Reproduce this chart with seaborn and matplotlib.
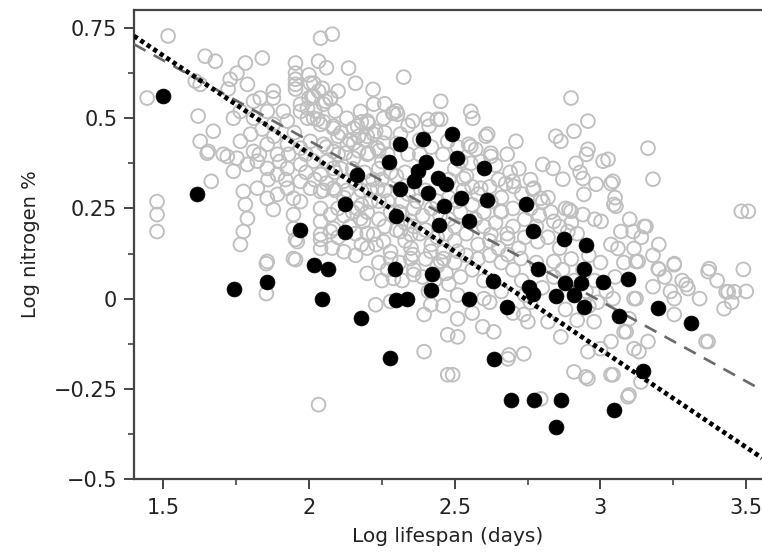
import numpy as np
import pandas as pd
import matplotlib
matplotlib.use("Agg")
import matplotlib.pyplot as plt
import seaborn as sns

# ---------------- data (log lifespan, log nitrogen %) ----------------
gray_left = [(1.517,0.728),(1.445,0.556),(1.644,0.672),(1.679,0.658),(1.782,0.653),(1.840,0.667),(1.753,0.625),(1.730,0.608),
 (1.789,0.594),(1.723,0.581),(1.627,0.594),(1.610,0.603),(1.620,0.506),(1.627,0.436),(1.672,0.464),(1.651,0.403),(1.720,0.394),
 (1.665,0.325),(1.479,0.269),(1.479,0.233),(1.479,0.186),(1.775,0.297),(1.782,0.261),(1.789,0.222),(1.775,0.186),(1.765,0.150),
 (1.857,0.103),(1.947,0.111),(1.954,0.164),(1.878,0.247),(1.857,0.278),(1.947,0.233),(1.947,0.278),(1.954,0.653),(1.954,0.625),
 (1.954,0.594),(1.954,0.581),(1.878,0.575),(1.833,0.556),(1.878,0.556),(1.912,0.519),(1.857,0.519),(1.810,0.547),(1.765,0.519),
 (1.741,0.500),(1.810,0.500),(1.878,0.483),(1.926,0.492),(1.971,0.519),(1.995,0.528),(1.971,0.417),(1.926,0.428),(1.892,0.400),
 (1.857,0.428),(1.810,0.408),(1.800,0.456),(1.765,0.436),(1.753,0.389),(1.789,0.372),(1.823,0.381),(1.857,0.361),(1.892,0.344),
 (1.926,0.361),(1.971,0.372),(1.971,0.325),(1.926,0.306),(1.892,0.289),(1.823,0.306),(1.741,0.353),(1.706,0.400),(1.971,0.269),
 (1.947,0.194),(1.655,0.408),(1.854,0.097),(1.854,0.014),(1.960,0.158),(1.954,0.108),(1.954,0.608),(1.971,0.539),(1.995,0.500)]

gray_mid = [(2.040,0.722),(2.080,0.733),(2.033,0.658),(2.136,0.639),(2.160,0.597),(2.016,0.597),(2.033,0.575),(2.000,0.556),
 (2.057,0.547),(2.100,0.575),(2.074,0.556),(2.016,0.500),(2.040,0.483),(2.084,0.472),(2.153,0.472),(2.200,0.492),(2.222,0.539),
 (2.132,0.428),(2.153,0.389),(2.084,0.408),(2.050,0.428),(2.005,0.436),(2.016,0.381),(2.040,0.344),(2.084,0.361),(2.119,0.325),
 (2.084,0.306),(2.040,0.297),(2.005,0.306),(2.040,0.250),(2.040,0.214),(2.074,0.233),(2.040,0.178),(2.040,0.139),(2.084,0.194),
 (2.166,0.250),(2.187,0.214),(2.211,0.269),(2.222,0.178),(2.235,0.306),(2.235,0.417),(2.222,0.456),(2.177,0.519),(2.033,-0.294),
 (2.229,-0.017),(2.200,0.181),(2.040,0.164),(2.074,0.186),(2.177,0.222),(2.256,0.158),(2.010,0.560),(2.020,0.520),(2.050,0.490),
 (2.090,0.520),(2.100,0.450),(2.130,0.500),(2.060,0.640),(2.000,0.620),(2.280,0.111),(2.256,0.500),(2.290,0.514),(2.200,0.400),
 (2.250,0.380),(2.280,0.350),(2.220,0.330),(2.180,0.300),(2.260,0.300),(2.280,0.240),(2.240,0.220),(2.180,0.260),(2.120,0.280),
 (2.150,0.360),(2.100,0.400),(2.140,0.440),(2.060,0.420),(2.090,0.350),(2.120,0.230),(2.160,0.180),(2.200,0.140),(2.240,0.100),
 (2.280,0.130),(2.260,0.460),(2.200,0.450),(2.180,0.490),(2.260,0.540),(2.220,0.580),(2.005,0.597),(2.016,0.561),(2.046,0.583),
 (2.050,0.539),(2.030,0.497),(2.074,0.553),(2.084,0.478),(2.167,0.478),(2.204,0.486),(2.153,0.431),(2.229,0.464),(2.256,0.431),
 (2.204,0.403),(2.125,0.403),(2.287,0.514),(2.304,0.511)]

gray_upper = [(2.325,0.614),(2.452,0.547),(2.356,0.492),(2.407,0.497),(2.452,0.497),(2.555,0.519),(2.562,0.500),(2.607,0.450),
 (2.710,0.436),(2.624,0.403),(2.572,0.414),(2.548,0.428),(2.314,0.456),(2.476,0.436),(2.521,0.381),(2.613,0.456),(2.555,0.422),
 (2.675,0.319),(2.703,0.311),(2.624,0.394),(2.555,0.375),(2.589,0.306),(2.531,0.333),(2.700,0.325),(2.340,0.400),(2.300,0.430),
 (2.340,0.480),(2.300,0.520),(2.380,0.440),(2.420,0.420),(2.460,0.400),(2.500,0.360),(2.540,0.340),(2.640,0.370),(2.680,0.400),
 (2.720,0.360),(2.400,0.300),(2.440,0.270),(2.560,0.260),(2.580,0.290),(2.620,0.310),(2.660,0.280),(2.412,0.478),(2.440,0.497)]

gray_core = [(2.624,0.269),(2.658,0.242),(2.624,0.178),(2.682,0.167),(2.682,0.122),(2.727,0.111),(2.349,0.178),(2.452,0.103),
 (2.510,0.131),(2.349,0.111),(2.359,0.067),(2.356,0.122),(2.290,0.056),(2.462,0.111),(2.418,0.131),(2.314,0.186),(2.349,0.214),
 (2.320,0.270),(2.360,0.250),(2.330,0.160),(2.380,0.180),(2.420,0.150),(2.460,0.130),(2.500,0.160),(2.540,0.180),(2.580,0.150),
 (2.620,0.120),(2.660,0.100),(2.700,0.080),(2.730,0.050),(2.600,0.050),(2.560,0.080),(2.520,0.060),(2.480,0.040),(2.440,0.090),
 (2.400,0.110),(2.360,0.080),(2.320,0.050),(2.480,0.220),(2.520,0.240),(2.700,0.250),(2.740,0.220),(2.720,0.140),(2.680,0.180),
 (2.640,0.210),(2.600,0.240),(2.360,0.200),(2.300,0.190),(2.410,0.020),(2.460,-0.020),(2.560,-0.040),(2.620,-0.010),(2.660,0.020),
 (2.700,-0.040)]

gray_dense = [(1.900,0.380),(1.880,0.450),(1.840,0.470),(1.950,0.460),(1.930,0.400),(1.860,0.330),(1.830,0.400),(1.920,0.330),
 (1.990,0.400),(1.990,0.350),(2.020,0.330),(2.060,0.320),(2.060,0.380),(2.110,0.360),(2.130,0.300),(2.160,0.320),(2.190,0.350),
 (2.170,0.410),(2.190,0.440),(2.240,0.410),(2.270,0.400),(2.240,0.360),(2.210,0.300),(2.240,0.270),(2.200,0.240),(2.150,0.240),
 (2.100,0.250),(2.090,0.300),(2.140,0.200),(2.100,0.170),(2.180,0.150),(2.230,0.150),(2.260,0.200),(2.270,0.270),(2.310,0.240),
 (2.330,0.210),(2.340,0.290),(2.330,0.350),(2.370,0.270),(2.390,0.230),(2.420,0.250),(2.400,0.190),(2.440,0.170),(2.470,0.180),
 (2.500,0.200),(2.510,0.270),(2.480,0.280),(2.530,0.300),(2.560,0.310),(2.570,0.220),(2.600,0.200),(2.620,0.160),(2.650,0.140),
 (2.580,0.110),(2.540,0.120),(2.500,0.100),(2.470,0.070),(2.430,0.050),(2.390,0.060),(2.350,0.140),(2.310,0.100),(2.270,0.080),
 (2.250,0.050),(2.200,0.070),(2.160,0.120),(2.120,0.130),(2.080,0.140),(2.050,0.300),(2.110,0.460),(2.170,0.450),(2.250,0.330),
 (2.300,0.340),(2.380,0.400),(2.480,0.330),(2.510,0.420),(2.590,0.380),(2.650,0.330),(2.690,0.350),(2.730,0.290),(2.760,0.250),
 (2.790,0.230),(2.830,0.240),(2.860,0.200),(2.900,0.210),(2.870,0.080),(2.910,0.050),(2.950,0.020),(2.990,-0.010),(3.050,0.060),
 (3.080,0.100),(2.780,0.100),(2.740,0.170),(2.700,0.200),(2.660,0.240),(2.740,0.010),(2.600,0.000),(2.510,0.010),(2.450,0.230)]

gray_low = [(2.395,-0.044),(2.476,-0.100),(2.510,-0.106),(2.395,-0.147),(2.476,-0.211),(2.634,-0.092),(2.682,-0.167),(2.737,-0.153),
 (2.737,-0.044),(2.820,-0.064),(2.864,-0.106),(2.957,-0.147),(2.909,-0.203),(2.957,-0.222),(3.036,-0.211),(3.094,-0.272),
 (3.139,-0.231),(3.115,-0.139),(3.036,-0.119),(2.978,-0.064),(3.081,-0.092),(3.163,-0.119),(3.253,-0.044),(3.369,-0.119),
 (3.424,-0.028),(2.795,-0.278),(2.280,-0.008),(2.510,-0.056),(2.418,-0.017),(2.686,-0.156),(2.950,-0.217),(2.493,-0.211),
 (2.596,-0.078),(2.751,-0.064),(3.000,-0.139),(3.043,-0.211),(3.098,-0.267),(3.362,-0.119),(3.132,-0.147),(3.088,-0.092),
 (3.098,-0.056),(2.880,-0.030),(2.920,-0.060),(2.960,-0.020),(2.760,-0.010)]

gray_right = [(2.899,0.556),(2.847,0.450),(2.864,0.436),(2.909,0.464),(2.957,0.492),(2.957,0.414),(3.009,0.381),(2.916,0.375),
 (2.802,0.372),(2.837,0.361),(2.871,0.331),(2.940,0.333),(2.985,0.317),(3.036,0.319),(3.163,0.417),(3.180,0.331),(3.046,0.261),
 (2.943,0.289),(2.899,0.242),(2.940,0.233),(3.002,0.214),(3.070,0.186),(3.112,0.186),(3.150,0.200),(3.060,0.139),(3.115,0.139),
 (3.129,0.103),(3.198,0.083),(3.253,0.094),(3.373,0.083),(3.490,0.081),(3.483,0.242),(3.507,0.242),(2.771,0.306),(2.802,0.269),
 (2.840,0.214),(2.888,0.186),(2.785,0.158),(2.840,0.103),(3.115,0.000),(3.253,0.000),(3.300,0.028),(3.459,0.019),(3.438,0.019),
 (2.768,0.303),(2.795,0.278),(2.892,0.247),(3.026,0.386),(3.043,0.325),(3.053,0.256),(3.369,0.075),(3.431,0.019),(3.156,0.200),
 (3.253,0.097),(3.201,0.081),(3.294,0.039),(3.180,0.033),(3.043,0.000),(3.122,0.000),(3.036,0.150),(3.122,0.103),(2.780,0.200),
 (2.820,0.170),(2.860,0.140),(2.900,0.110),(2.940,0.080),(2.980,0.050),(3.020,0.020),(2.840,0.060),(2.800,0.030),(3.000,0.100),
 (2.960,0.120),(2.920,0.180),(2.980,0.220),(2.880,0.250),(2.820,0.280),(2.760,0.330),(2.930,0.350),(3.050,0.280),(3.100,0.220),
 (3.140,0.170),(3.180,0.120),(3.200,0.150),(3.220,0.060),(3.280,0.050),(3.240,0.020),(3.340,0.000),(3.400,0.050),(3.450,-0.010),
 (3.500,0.020),(2.952,0.400)]

black_points = [(1.500,0.561),(1.617,0.289),(1.744,0.028),(1.857,0.047),(1.971,0.190),(2.016,0.094),(2.067,0.081),(2.046,0.000),
 (2.177,-0.053),(2.166,0.344),(2.125,0.261),(2.125,0.186),(2.277,-0.164),(2.297,0.228),(2.294,0.081),(2.300,-0.003),(2.338,0.000),
 (2.421,0.069),(2.418,0.025),(2.445,0.203),(2.314,0.428),(2.390,0.442),(2.273,0.378),(2.400,0.378),(2.373,0.353),(2.359,0.325),
 (2.442,0.333),(2.469,0.317),(2.407,0.292),(2.314,0.303),(2.490,0.456),(2.462,0.256),(2.507,0.389),(2.600,0.361),(2.520,0.278),
 (2.610,0.272),(2.548,0.216),(2.744,0.261),(2.768,0.188),(2.875,0.166),(2.950,0.150),(2.785,0.083),(2.943,0.083),(2.548,0.000),
 (2.679,-0.022),(2.632,0.050),(2.754,0.033),(2.768,0.014),(2.847,0.006),(2.910,0.010),(2.880,0.042),(2.933,0.042),(2.943,-0.022),
 (3.010,0.045),(3.094,0.053),(3.064,-0.047),(3.196,-0.027),(3.311,-0.067),(2.634,-0.167),(3.146,-0.200),(2.692,-0.281),
 (2.771,-0.281),(2.864,-0.281),(3.045,-0.308),(2.847,-0.356)]

# fitted lines: value at x = 1.4 and slope
dotted_fit = {"y_at_start": 0.728, "slope": -0.543}
dashed_fit = {"y_at_start": 0.705, "slope": -0.445}

x_ticks = [1.5, 2, 2.5, 3, 3.5]
x_tick_labels = ["1.5", "2", "2.5", "3", "3.5"]
y_ticks = [-0.5, -0.25, 0, 0.25, 0.5, 0.75]
y_tick_labels = ["\u22120.5", "\u22120.25", "0", "0.25", "0.5", "0.75"]

# ---------------- figure ----------------
sns.set_style("ticks")
plt.rcParams["font.family"] = ["DejaVu Sans"]

W, H = 762, 560
fig = plt.figure(figsize=(W / 100, H / 100), dpi=100)
ax = fig.add_axes([134 / W, (H - 479) / H, (W - 134) / W, (479 - 10) / H])

XMIN, XMAX = 1.4, 3.554

gray_all = gray_left + gray_mid + gray_upper + gray_core + gray_dense + gray_low + gray_right
gray_df = pd.DataFrame(gray_all, columns=["lifespan", "nitrogen"])
black_df = pd.DataFrame(black_points, columns=["lifespan", "nitrogen"])

sns.scatterplot(data=gray_df, x="lifespan", y="nitrogen", ax=ax, marker="o", s=98,
                facecolors="none", edgecolors="#bfbfbf", linewidths=1.35, zorder=2, legend=False)

line_x = np.array([XMIN, XMAX])
dashed_df = pd.DataFrame({"x": line_x, "y": dashed_fit["y_at_start"] + dashed_fit["slope"] * (line_x - XMIN)})
dotted_df = pd.DataFrame({"x": line_x, "y": dotted_fit["y_at_start"] + dotted_fit["slope"] * (line_x - XMIN)})
sns.lineplot(data=dashed_df, x="x", y="y", ax=ax, color="#6a6a6a", linewidth=1.9, zorder=3)
ax.lines[-1].set_dashes((5, 3.5))
sns.lineplot(data=dotted_df, x="x", y="y", ax=ax, color="black", linewidth=3.4, zorder=4)
ax.lines[-1].set_dashes((0.9, 0.75))
ax.lines[-1].set_dash_capstyle("butt")

sns.scatterplot(data=black_df, x="lifespan", y="nitrogen", ax=ax, marker="o", s=115,
                color="black", edgecolor="black", linewidth=0.5, zorder=5, legend=False)

ax.set_xlim(XMIN, XMAX)
ax.set_ylim(-0.5, 0.8)
ax.set_xticks(x_ticks)
ax.set_xticklabels(x_tick_labels)
ax.set_yticks(y_ticks)
ax.set_yticklabels(y_tick_labels)
ax.set_xticks([1.75, 2.25, 2.75, 3.25], minor=True)
ax.set_yticks([-0.375, -0.125, 0.125, 0.375, 0.625], minor=True)

ax.tick_params(axis="both", which="major", direction="out", length=7, width=1.4,
               color="#444444", labelsize=15, labelcolor="#222222", pad=5)
ax.tick_params(axis="x", which="major", pad=7)
ax.tick_params(axis="both", which="minor", direction="out", length=4.5, width=1.2, color="#444444")

for side in ["left", "bottom", "top"]:
    ax.spines[side].set_linewidth(1.6)
    ax.spines[side].set_color("#444444")
ax.spines["right"].set_visible(False)

ax.set_xlabel("Log lifespan (days)", fontsize=14.5, color="#222222", labelpad=6)
ax.set_ylabel("Log nitrogen %", fontsize=14, color="#222222", labelpad=10)

fig.savefig("out.png", dpi=100)
